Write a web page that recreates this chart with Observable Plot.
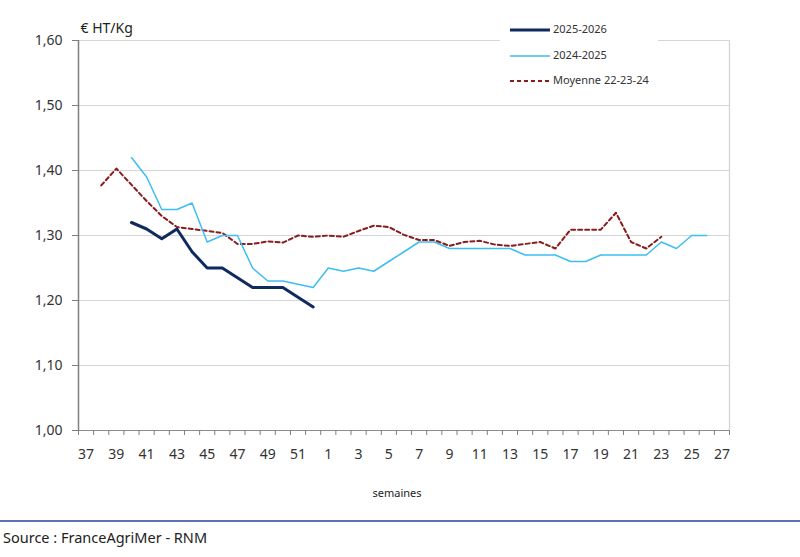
<!DOCTYPE html>
<html><head><meta charset="utf-8">
<script src="https://cdn.jsdelivr.net/npm/d3@7"></script>
<script src="https://cdn.jsdelivr.net/npm/@observablehq/plot@0.6"></script>
<style>
body{margin:0;background:#fff;font-family:"Noto Sans",sans-serif;}
#wrap{position:relative;width:800px;height:557px;overflow:hidden;background:#fff}
#chart{position:absolute;left:0;top:0}
#legend{position:absolute;left:500px;top:18px;width:158px;height:76px;background:#fff;}
.row{position:absolute;left:0;height:14px;font-size:11px;color:#333;white-space:nowrap}
.row svg{position:absolute;left:10px;top:0}
.row span{position:absolute;left:53px;top:-1px;line-height:14px}
#footer{position:absolute;left:0;top:520px;width:800px;border-top:2px solid #5a72b5;}
#footer div{position:absolute;left:3px;top:5px;font-size:14.5px;color:#222;white-space:nowrap}
</style></head><body>
<div id="wrap"><div id="chart"></div><div id="legend"></div>
<div id="footer"><div id="src"></div></div></div>
<script>
const weeks = [37,38,39,40,41,42,43,44,45,46,47,48,49,50,51,52,1,2,3,4,5,6,7,8,9,10,11,12,13,14,15,16,17,18,19,20,21,22,23,24,25,26,27];
const seriesNames = ["2025-2026","2024-2025","Moyenne 22-23-24"];
const s2526 = [null,null,null,1.32,1.31,1.295,1.31,1.275,1.25,1.25,1.235,1.22,1.22,1.22,1.205,1.19,
  null,null,null,null,null,null,null,null,null,null,null,null,null,null,null,null,null,null,null,null,null,null,null,null,null,null,null];
const s2425 = [null,null,null,1.42,1.39,1.34,1.34,1.35,1.29,1.30,1.30,1.25,1.23,1.23,1.225,1.22,
  1.25,1.245,1.25,1.245,1.26,1.275,1.29,1.29,1.28,1.28,1.28,1.28,1.28,1.27,1.27,1.27,1.26,1.26,1.27,1.27,1.27,1.27,1.29,1.28,1.30,1.30,null];
const sMoy = [null,1.377,1.403,1.378,1.353,1.33,1.313,1.31,1.307,1.304,1.287,1.287,1.291,1.289,1.30,1.298,
  1.30,1.298,1.307,1.315,1.313,1.301,1.293,1.293,1.284,1.29,1.292,1.286,1.284,1.287,1.29,1.28,1.309,1.309,1.309,1.335,1.29,1.28,1.298,null,null,null,null];
const yTicks = [1.0,1.1,1.2,1.3,1.4,1.5,1.6];
const yLabel = "€ HT/Kg";
const xLabel = "semaines";
const source = "Source : FranceAgriMer - RNM";

const idx = weeks.map((w,i)=>i);
const xDomain = [-0.5, weeks.length - 0.5];
const boundaries = d3.range(weeks.length + 1).map(i => i - 0.5);
const labelIdx = idx.filter(i => i % 2 === 0);
const rows = s => weeks.map((w,i)=>({i, v: s[i]}));
const fmt = d => d.toFixed(2).replace(".", ",");

const colors = ["#10295e", "#3dbdf2", "#8a1c1c"];

const chart = Plot.plot({
  width: 800, height: 510,
  marginLeft: 78, marginRight: 71, marginTop: 40, marginBottom: 80,
  x: {type: "linear", domain: xDomain},
  y: {domain: [1.0, 1.6]},
  style: {fontFamily: "'Noto Sans', sans-serif", fontSize: "14px", color: "#333", background: "#fff"},
  marks: [
    Plot.gridY(yTicks, {stroke: "#d6d6d6", strokeOpacity: 1, strokeWidth: 1.2}),
    Plot.ruleX([xDomain[1]], {stroke: "#d9d9d9", strokeWidth: 1.5}),
    Plot.ruleY([yTicks[0]], {stroke: "#8c8c8c", strokeWidth: 1.2}),
    Plot.ruleX([xDomain[0]], {stroke: "#7f7f7f", strokeWidth: 1.5}),
    Plot.axisY({ticks: yTicks, tickFormat: fmt, tickSize: 6, tickPadding: 10, stroke: "#7f7f7f", label: null, fontSize: 14, fill: "#333"}),
    Plot.axisX({ticks: boundaries, tickSize: 5, tickFormat: () => "", label: null, stroke: "#7f7f7f"}),
    Plot.axisX({ticks: labelIdx, tickSize: 0, tickPadding: 19, tickFormat: i => String(weeks[i]), label: null, fontSize: 14, fill: "#333"}),
    Plot.line(rows(sMoy), {x: "i", y: "v", stroke: colors[2], strokeWidth: 2, strokeDasharray: "4,3"}),
    Plot.line(rows(s2425), {x: "i", y: "v", stroke: colors[1], strokeWidth: 1.5}),
    Plot.line(rows(s2526), {x: "i", y: "v", stroke: colors[0], strokeWidth: 3}),
    Plot.text([yLabel], {frameAnchor: "top-left", lineAnchor: "bottom", textAnchor: "start", dx: 2, dy: -8, fontSize: 14, fill: "#222"}),
    Plot.text([xLabel], {frameAnchor: "bottom", lineAnchor: "middle", dy: 63, dx: -7, fontSize: 11, fill: "#222"})
  ]
});
document.getElementById("chart").appendChild(chart);

// legend
const leg = document.getElementById("legend");
const styles = [
  {w: 3, dash: null},
  {w: 1.5, dash: null},
  {w: 2, dash: "4,3"}
];
const tops = [5, 31, 56];
seriesNames.forEach((n, k) => {
  const r = document.createElement("div");
  r.className = "row";
  r.style.top = tops[k] + "px";
  r.style.width = "158px";
  r.innerHTML = `<svg width="42" height="14"><line x1="0" x2="40" y1="7" y2="7" stroke="${colors[k]}" stroke-width="${styles[k].w}" ${styles[k].dash ? `stroke-dasharray="${styles[k].dash}"` : ""}/></svg><span>${n}</span>`;
  leg.appendChild(r);
});
document.getElementById("src").textContent = source;
</script>
</body></html>
